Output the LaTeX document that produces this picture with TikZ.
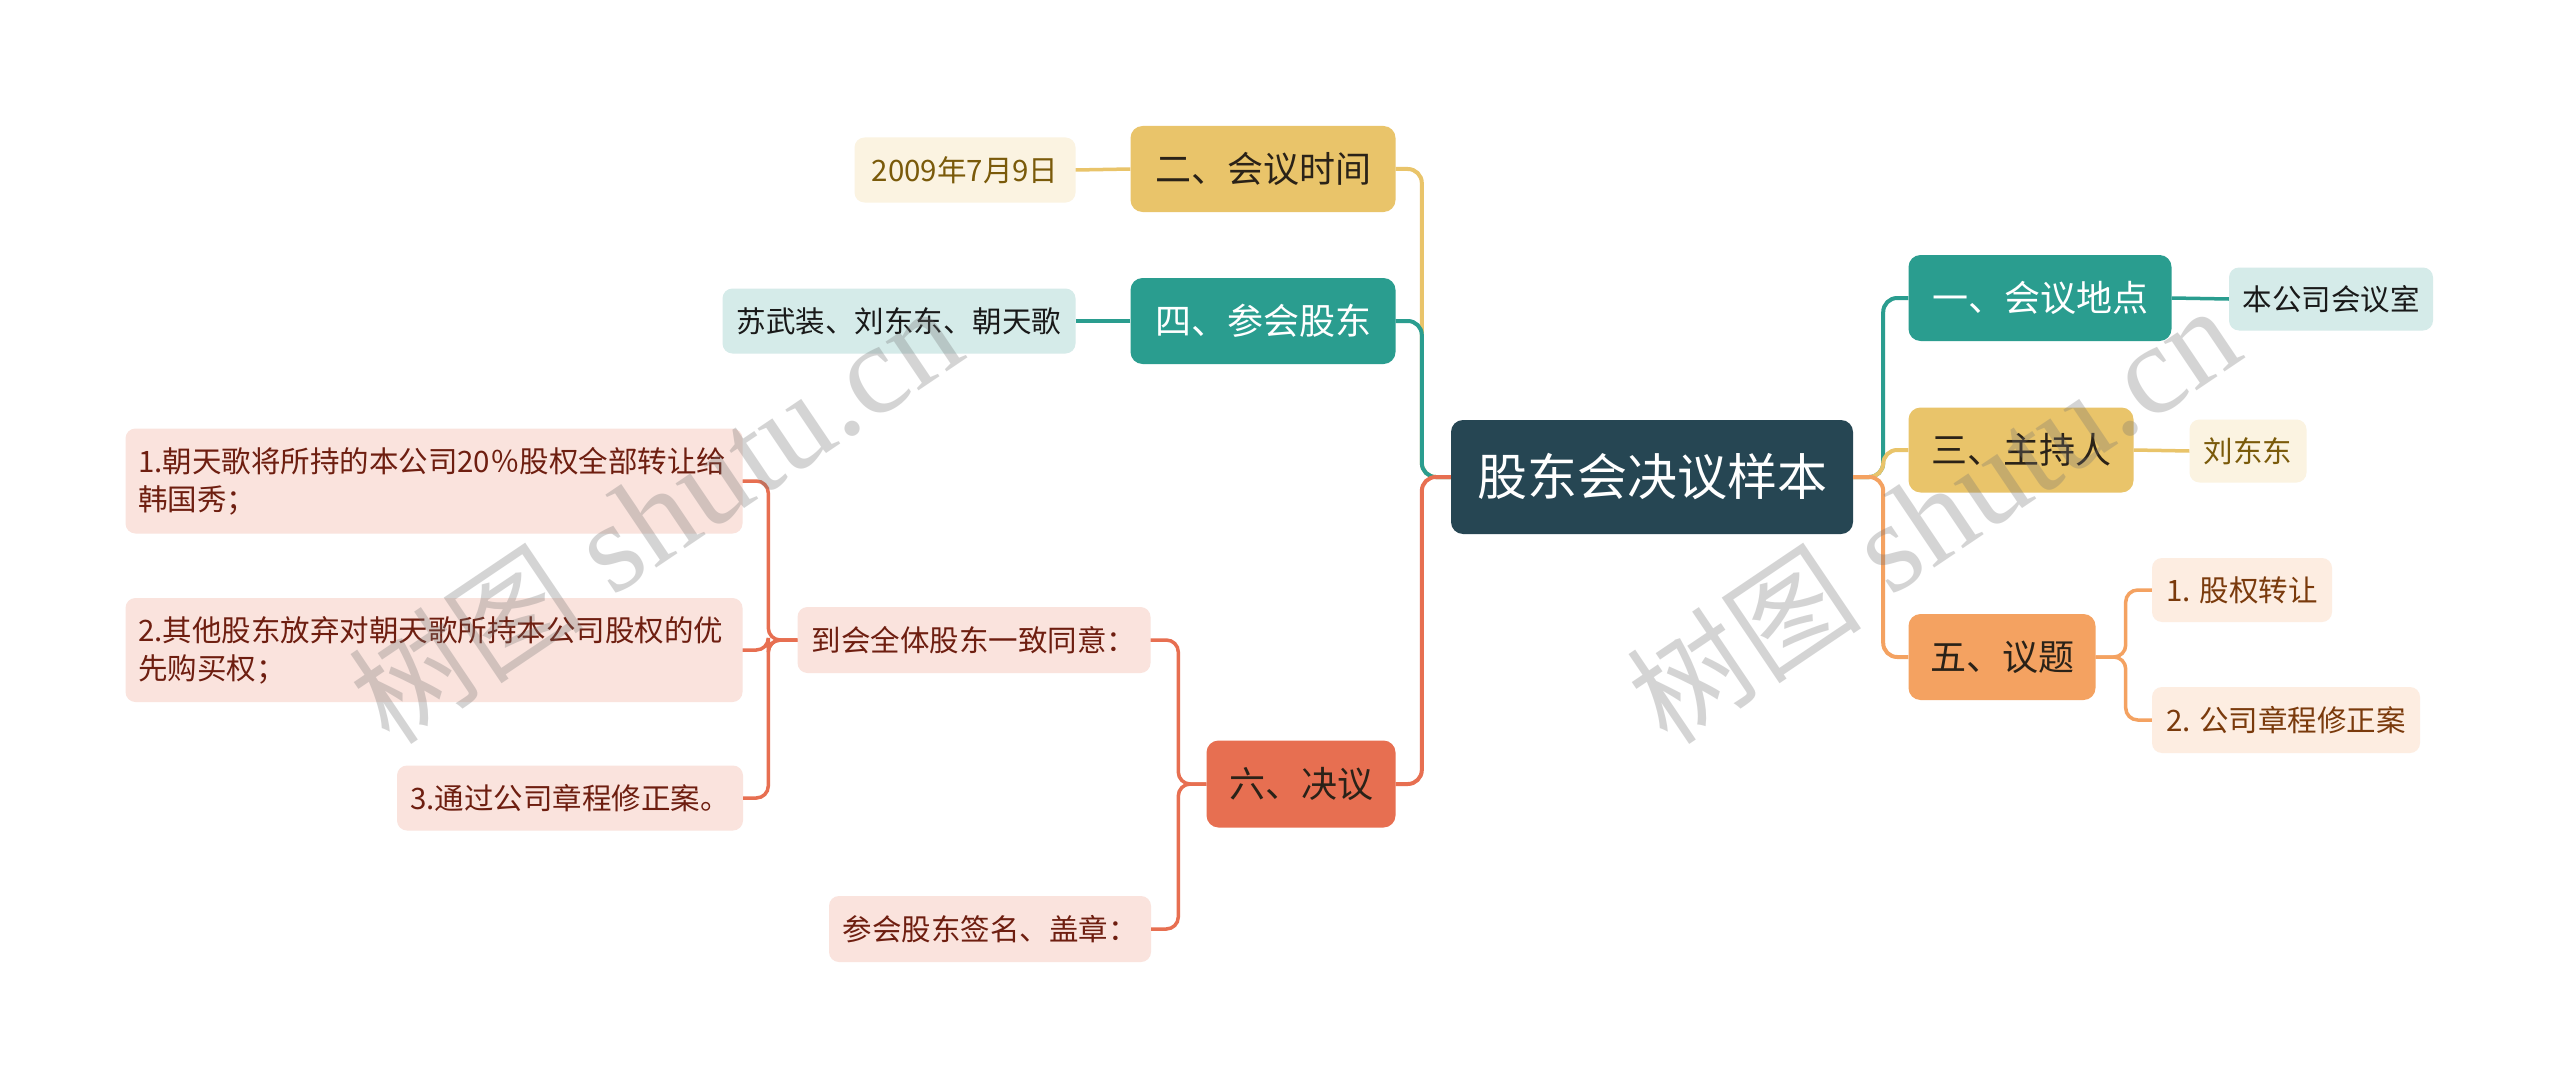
\documentclass[tikz,border=0pt]{standalone}
\usepackage{fontspec}
\newfontfamily\cjk{Noto Sans CJK SC}
\newfontfamily\wmserif{Liberation Serif}
\definecolor{rootc}{HTML}{264653}
\definecolor{tealc}{HTML}{2A9D8F}
\definecolor{yelc}{HTML}{E9C46A}
\definecolor{orac}{HTML}{F4A261}
\definecolor{redc}{HTML}{E76F51}
\definecolor{tealleaf}{HTML}{D5EBE9}
\definecolor{yelleaf}{HTML}{FBF3E1}
\definecolor{oraleaf}{HTML}{FDEDE1}
\definecolor{redleaf}{HTML}{FAE3DD}
\definecolor{yeltext}{HTML}{7A5A0A}
\definecolor{oratext}{HTML}{7A3A0C}
\definecolor{redtext}{HTML}{6E1E10}
\definecolor{darktext}{HTML}{2A2218}
\tikzset{
  box/.style={rounded corners=12pt, inner sep=0pt, align=center},
  rootbox/.style={box, fill=rootc, text=white, font=\cjk\fontsize{50}{60}\selectfont},
  mainbox/.style={box, font=\cjk\fontsize{36}{44}\selectfont},
  leafbox/.style={box, rounded corners=10pt, font=\cjk\fontsize{29.5}{38}\selectfont},
  conn/.style={line width=4pt, rounded corners=14pt},
  lconn/.style={line width=3.5pt, rounded corners=12pt},
  wm/.style={text=black!55, opacity=0.3, rotate=34}
}
\begin{document}
\begin{tikzpicture}[x=1pt,y=-1pt]
\useasboundingbox (0,0) rectangle (2560,1089);
\fill[white] (0,0) rectangle (2560,1089);
% root
\node[rootbox, minimum width=402pt, minimum height=114pt] (root) at (1652,477) {股东会决议样本};
% right side
\node[mainbox, fill=tealc, text=white, minimum width=263pt, minimum height=86pt] (n1) at (2040,298) {一、会议地点};
\node[leafbox, fill=tealleaf, text=black!90, minimum width=204pt, minimum height=63pt] (n1a) at (2331,299) {本公司会议室};
\node[mainbox, fill=yelc, text=darktext, minimum width=225pt, minimum height=85pt] (n3) at (2021,450) {三、主持人};
\node[leafbox, fill=yelleaf, text=yeltext, minimum width=117pt, minimum height=63pt] (n3a) at (2248,451) {刘东东};
\node[mainbox, fill=orac, text=darktext, minimum width=187pt, minimum height=86pt] (n5) at (2002,657) {五、议题};
\node[leafbox, fill=oraleaf, text=oratext, minimum width=180pt, minimum height=64pt] (n5a) at (2242,590) {1. 股权转让};
\node[leafbox, fill=oraleaf, text=oratext, minimum width=268pt, minimum height=66pt] (n5b) at (2286,720) {2. 公司章程修正案};
% left side
\node[mainbox, fill=yelc, text=darktext, minimum width=265pt, minimum height=86pt] (n2) at (1263,169) {二、会议时间};
\node[leafbox, fill=yelleaf, text=yeltext, minimum width=221pt, minimum height=65pt] (n2a) at (965,170) {2009年7月9日};
\node[mainbox, fill=tealc, text=white, minimum width=265pt, minimum height=86pt] (n4) at (1263,321) {四、参会股东};
\node[leafbox, fill=tealleaf, text=black!90, minimum width=353pt, minimum height=65pt] (n4a) at (899,321) {苏武装、刘东东、朝天歌};
\node[mainbox, fill=redc, text=darktext, minimum width=189pt, minimum height=87pt] (n6) at (1301,784) {六、决议};
\node[leafbox, fill=redleaf, text=redtext, minimum width=353pt, minimum height=66pt] (n6a) at (974,640) {到会全体股东一致同意：};
\node[leafbox, fill=redleaf, text=redtext, minimum width=322pt, minimum height=66pt] (n6b) at (990,929) {参会股东签名、盖章：};
\node[leafbox, fill=redleaf, text=redtext, minimum width=617pt, minimum height=105pt, align=left, text width=592pt] (d1) at (434,481) {1.朝天歌将所持的本公司20％股权全部转让给\\韩国秀；};
\node[leafbox, fill=redleaf, text=redtext, minimum width=617pt, minimum height=104pt, align=left, text width=592pt] (d2) at (434,650) {2.其他股东放弃对朝天歌所持本公司股权的优\\先购买权；};
\node[leafbox, fill=redleaf, text=redtext, minimum width=346pt, minimum height=65pt] (d3) at (570,798) {3.通过公司章程修正案。};
% connectors left
\draw[conn, yelc] (root.west) -- ++(-29,0) |- (n2.east);
\draw[conn, tealc] (root.west) -- ++(-29,0) |- (n4.east);
\draw[conn, redc] (root.west) -- ++(-29,0) |- (n6.east);
\draw[lconn, yelc] (n2.west) -- (n2a.east);
\draw[lconn, tealc] (n4.west) -- (n4a.east);
\draw[lconn, redc] (n6.west) -- ++(-28,0) |- (n6a.east);
\draw[lconn, redc] (n6.west) -- ++(-28,0) |- (n6b.east);
\draw[lconn, redc] (n6a.west) -- ++(-29,0) |- (d1.east);
\draw[lconn, redc] (n6a.west) -- ++(-29,0) |- (d2.east);
\draw[lconn, redc] (n6a.west) -- ++(-29,0) |- (d3.east);
% connectors right
\draw[conn, tealc] (root.east) -- ++(30,0) |- (n1.west);
\draw[conn, yelc] (root.east) -- ++(30,0) |- (n3.west);
\draw[conn, orac] (root.east) -- ++(30,0) |- (n5.west);
\draw[lconn, tealc] (n1.east) -- (n1a.west);
\draw[lconn, yelc] (n3.east) -- (n3a.west);
\draw[lconn, orac] (n5.east) -- ++(30,0) |- (n5a.west);
\draw[lconn, orac] (n5.east) -- ++(30,0) |- (n5b.west);
% watermarks
\node[wm] (wm1) at (655,515) {\cjk\fontsize{118}{120}\selectfont 树图\wmserif\fontsize{128}{130}\selectfont\ shutu.cn};
\node[wm] (wm2) at (1933,515) {\cjk\fontsize{118}{120}\selectfont 树图\wmserif\fontsize{128}{130}\selectfont\ shutu.cn};
\end{tikzpicture}
\end{document}
